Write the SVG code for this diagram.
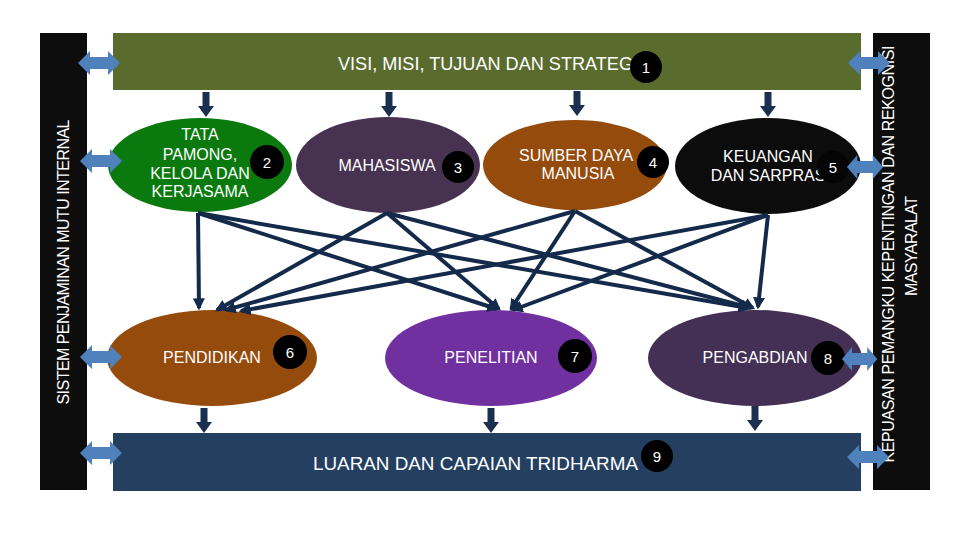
<svg xmlns="http://www.w3.org/2000/svg" xmlns:xlink="http://www.w3.org/1999/xlink" width="960" height="540" viewBox="0 0 960 540">
<style>
.t{font-family:"Liberation Sans",Arial,sans-serif;fill:#fff;font-size:16px;text-anchor:middle}
.ts{font-family:"Liberation Sans",Arial,sans-serif;fill:#fff;font-size:18px;text-anchor:start}
.n{font-family:"Liberation Sans",Arial,sans-serif;fill:#fff;font-size:15px;text-anchor:middle;dominant-baseline:central}
.c{fill:#000}
.con{stroke:#142a4a;stroke-width:4;fill:none;marker-end:url(#ah)}
.blk{fill:#1b2f4f}
.dbl{fill:#4f81bd}
.side{fill:#0d0d0d}
</style>
<defs>
<marker id="ah" viewBox="0 0 10 10" refX="8" refY="5" markerWidth="12" markerHeight="12" markerUnits="userSpaceOnUse" orient="auto">
<path d="M0,0 L10,5 L0,10 Z" fill="#142a4a"/>
</marker>
<path id="down" d="M-3.5,0 H3.5 V14 H8 L0,25 L-8,14 H-3.5 Z"/>
<path id="dbl" d="M0,0 L12,-12 V-6 H30 V-12 L42,0 L30,12 V6 H12 V12 Z"/>
</defs>

<g id="bar-left">
<rect class="side" x="40" y="33" width="47" height="457"/>
<text class="t" font-size="14" textLength="285" lengthAdjust="spacing" transform="translate(63,262) rotate(-90)" dominant-baseline="central">SISTEM PENJAMINAN MUTU INTERNAL</text>
</g>
<g id="bar-right">
<rect class="side" x="873" y="33" width="57" height="457"/>
<text class="t" font-size="14" textLength="417" lengthAdjust="spacing" transform="translate(888,254) rotate(-90)" dominant-baseline="central">KEPUASAN PEMANGKU KEPENTINGAN DAN REKOGNISI</text>
<text class="t" font-size="14" textLength="100" lengthAdjust="spacing" transform="translate(911,246) rotate(-90)" dominant-baseline="central">MASYARALAT</text>
</g>

<g id="top-box">
<rect x="113" y="33" width="748" height="57" fill="#5a6b2e"/>
<text class="ts" x="338" y="70" textLength="300" lengthAdjust="spacingAndGlyphs">VISI, MISI, TUJUAN DAN STRATEGI</text>
<circle class="c" cx="646" cy="67" r="16"/>
<text class="n" x="646" y="67">1</text>
</g>

<g id="bottom-box">
<rect x="113" y="433" width="748" height="58" fill="#243f5f"/>
<text class="ts" x="313" y="470" textLength="325" lengthAdjust="spacingAndGlyphs">LUARAN DAN CAPAIAN TRIDHARMA</text>
<circle class="c" cx="657" cy="456" r="16"/>
<text class="n" x="657" y="456">9</text>
</g>

<g id="tata-pamong">
<ellipse cx="200" cy="165" rx="92" ry="47" fill="#0a7a0e"/>
<text class="t" x="200" y="140">TATA</text>
<text class="t" x="200" y="160">PAMONG,</text>
<text class="t" x="200" y="179">KELOLA DAN</text>
<text class="t" x="200" y="197">KERJASAMA</text>
<circle class="c" cx="267" cy="162" r="17"/>
<text class="n" x="267" y="162">2</text>
</g>

<g id="mahasiswa">
<ellipse cx="388" cy="165" rx="92" ry="48" fill="#473252"/>
<text class="t" x="387" y="171">MAHASISWA</text>
<circle class="c" cx="458" cy="167" r="16"/>
<text class="n" x="458" y="167">3</text>
</g>

<g id="sdm">
<ellipse cx="575" cy="165" rx="92" ry="45" fill="#954b0b"/>
<text class="t" x="576" y="161">SUMBER DAYA</text>
<text class="t" x="578" y="179">MANUSIA</text>
<circle class="c" cx="653" cy="162" r="16"/>
<text class="n" x="653" y="162">4</text>
</g>

<g id="keuangan">
<ellipse cx="768" cy="166" rx="93" ry="48" fill="#0c0c0c"/>
<text class="t" x="768" y="162">KEUANGAN</text>
<text class="t" x="768" y="181">DAN SARPRAS</text>
<circle cx="833" cy="167" r="16" fill="#050505"/>
<text class="n" x="833" y="167">5</text>
</g>

<g id="pendidikan">
<ellipse cx="212" cy="358" rx="105" ry="48" fill="#954b0b"/>
<text class="t" x="212" y="363">PENDIDIKAN</text>
<circle class="c" cx="290" cy="352" r="17"/>
<text class="n" x="290" y="352">6</text>
</g>

<g id="penelitian">
<ellipse cx="491" cy="358" rx="106" ry="48" fill="#7030a0"/>
<text class="t" x="491" y="363">PENELITIAN</text>
<circle class="c" cx="575" cy="356" r="17"/>
<text class="n" x="575" y="356">7</text>
</g>

<g id="pengabdian">
<ellipse cx="755" cy="358" rx="107" ry="48" fill="#433054"/>
<text class="t" x="755" y="363">PENGABDIAN</text>
<circle class="c" cx="828" cy="358" r="17"/>
<text class="n" x="828" y="358">8</text>
</g>

<g id="connectors">
<line class="con" x1="198" y1="213" x2="199" y2="308"/>
<line class="con" x1="198" y1="213" x2="497" y2="309"/>
<line class="con" x1="198" y1="213" x2="748" y2="308"/>
<line class="con" x1="387" y1="213" x2="217" y2="310"/>
<line class="con" x1="387" y1="213" x2="499" y2="309"/>
<line class="con" x1="387" y1="213" x2="751" y2="308"/>
<line class="con" x1="575" y1="211" x2="226" y2="310"/>
<line class="con" x1="575" y1="211" x2="511" y2="309"/>
<line class="con" x1="575" y1="211" x2="753" y2="308"/>
<line class="con" x1="768" y1="215" x2="241" y2="311"/>
<line class="con" x1="768" y1="215" x2="513" y2="310"/>
<line class="con" x1="768" y1="215" x2="758" y2="307"/>
<use href="#down" class="blk" x="206" y="92"/>
<use href="#down" class="blk" x="389" y="92"/>
<use href="#down" class="blk" x="577" y="91"/>
<use href="#down" class="blk" x="768" y="92"/>
<use href="#down" class="blk" x="204" y="408"/>
<use href="#down" class="blk" x="491" y="408"/>
<use href="#down" class="blk" x="755" y="406"/>
<use href="#dbl" class="dbl" x="78" y="63"/>
<use href="#dbl" class="dbl" x="80" y="161"/>
<use href="#dbl" class="dbl" x="80" y="357"/>
<use href="#dbl" class="dbl" x="80" y="453"/>
<use href="#dbl" class="dbl" x="848" y="63"/>
<use href="#dbl" class="dbl" transform="translate(847,167) scale(0.86,1)"/>
<use href="#dbl" class="dbl" transform="translate(842,359) scale(0.84,1)"/>
<use href="#dbl" class="dbl" x="847" y="457"/>
</g>
</svg>
